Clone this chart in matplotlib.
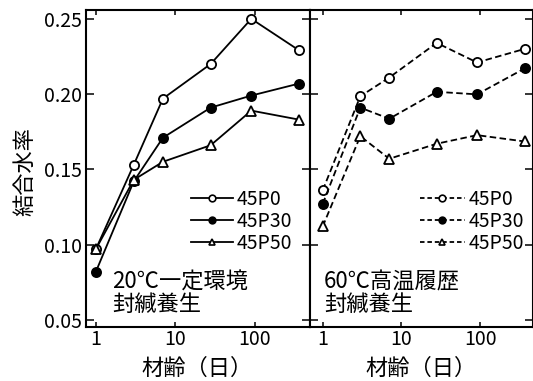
import matplotlib
matplotlib.use("Agg")
import matplotlib.pyplot as plt
from matplotlib.ticker import FixedLocator, FixedFormatter, NullLocator
from matplotlib.lines import Line2D

plt.rcParams['font.family'] = ['Noto Sans CJK JP', 'DejaVu Sans']

# curing age (days)
days = [1, 3, 7, 28, 91, 365]

# bound water ratio, 20 °C constant sealed curing
left_p0 = [0.097, 0.153, 0.197, 0.220, 0.250, 0.229]
left_p30 = [0.082, 0.142, 0.171, 0.191, 0.199, 0.207]
left_p50 = [0.097, 0.143, 0.155, 0.166, 0.189, 0.183]

# bound water ratio, 60 °C high-temperature history sealed curing
right_p0 = [0.136, 0.1985, 0.211, 0.234, 0.221, 0.230]
right_p30 = [0.127, 0.191, 0.1836, 0.2015, 0.1998, 0.217]
right_p50 = [0.112, 0.172, 0.157, 0.167, 0.1727, 0.1685]

series_names = ['45P0', '45P30', '45P50']
x_ticks = [1, 10, 100]
x_tick_labels = ['1', '10', '100']
y_ticks = [0.05, 0.10, 0.15, 0.20, 0.25]
y_tick_labels = ['0.05', '0.10', '0.15', '0.20', '0.25']

W, H = 533, 381
fig = plt.figure(figsize=(W / 100, H / 100), dpi=100)

top_px, bot_px = 9.5, 327
axL = fig.add_axes([86 / W, 1 - bot_px / H, 224 / W, (bot_px - top_px) / H])
axR = fig.add_axes([310 / W, 1 - bot_px / H, 223 / W, (bot_px - top_px) / H])

marker_styles = [
    dict(marker='o', markerfacecolor='white'),
    dict(marker='o', markerfacecolor='black'),
    dict(marker='^', markerfacecolor='white'),
]

LW = 1.3
DASH = (3.6, 1.9)
NUM_FS = 14
JP_FS = 16


def style_axes(ax, xlim, show_ylabels):
    ax.set_xscale('log')
    ax.set_xlim(*xlim)
    ax.set_ylim(0.0452, 0.2562)
    ax.xaxis.set_major_locator(FixedLocator(x_ticks))
    ax.xaxis.set_major_formatter(FixedFormatter(x_tick_labels))
    ax.xaxis.set_minor_locator(NullLocator())
    ax.yaxis.set_major_locator(FixedLocator(y_ticks))
    ax.yaxis.set_minor_locator(NullLocator())
    if show_ylabels:
        ax.yaxis.set_major_formatter(FixedFormatter(y_tick_labels))
    else:
        ax.yaxis.set_major_formatter(FixedFormatter([''] * len(y_ticks)))
    ax.tick_params(axis='y', which='major', direction='in', length=5.8, width=1.1,
                   left=True, right=True, labelsize=NUM_FS, pad=3)
    ax.tick_params(axis='x', which='major', direction='in', length=3.8, width=1.1,
                   top=True, bottom=True, labelsize=NUM_FS, pad=1.5)
    for sp in ax.spines.values():
        sp.set_linewidth(1.5)


def draw_panel(ax, series, dashed):
    for vals, ms in zip(series, marker_styles):
        line, = ax.plot(days, vals, color='black', lw=LW, markersize=6.6,
                        markeredgecolor='black', markeredgewidth=1.3, **ms)
        if dashed:
            line.set_dashes(DASH)


style_axes(axL, (0.75, 500), True)
style_axes(axR, (0.69, 467), False)

draw_panel(axL, [left_p0, left_p30, left_p50], dashed=False)
draw_panel(axR, [right_p0, right_p30, right_p50], dashed=True)


def legend_handles(dashed):
    handles = []
    for ms in marker_styles:
        h = Line2D([], [], color='black', lw=LW, markersize=4.8,
                   markeredgecolor='black', markeredgewidth=1.2, **ms)
        if dashed:
            h.set_dashes((2.5, 1.6))
        handles.append(h)
    return handles


for ax, x0, dashed, hl in [(axL, 191, False, 2.15), (axR, 420, True, 2.3)]:
    ax.legend(legend_handles(dashed), series_names, loc='center left',
              bbox_to_anchor=(x0 / W, 1 - 221.7 / H), bbox_transform=fig.transFigure,
              frameon=False, fontsize=NUM_FS, handlelength=hl, handletextpad=0.2,
              borderpad=0, borderaxespad=0, labelspacing=0.05)

# condition labels
fig.text(112 / W, 1 - 282.5 / H, '20℃一定環境', fontsize=JP_FS, ha='left', va='center')
fig.text(112 / W, 1 - 304 / H, '封緘養生', fontsize=JP_FS, ha='left', va='center')
fig.text(324 / W, 1 - 282.5 / H, '60℃高温履歴', fontsize=JP_FS, ha='left', va='center')
fig.text(324 / W, 1 - 304 / H, '封緘養生', fontsize=JP_FS, ha='left', va='center')

# axis titles
fig.text(197 / W, 1 - 368 / H, '材齢（日）', fontsize=JP_FS, ha='center', va='center')
fig.text(421.5 / W, 1 - 368 / H, '材齢（日）', fontsize=JP_FS, ha='center', va='center')
fig.text(25 / W, 1 - 172 / H, '結合水率', fontsize=JP_FS, ha='center', va='center',
         rotation=90)

fig.savefig('out.png', dpi=100)
